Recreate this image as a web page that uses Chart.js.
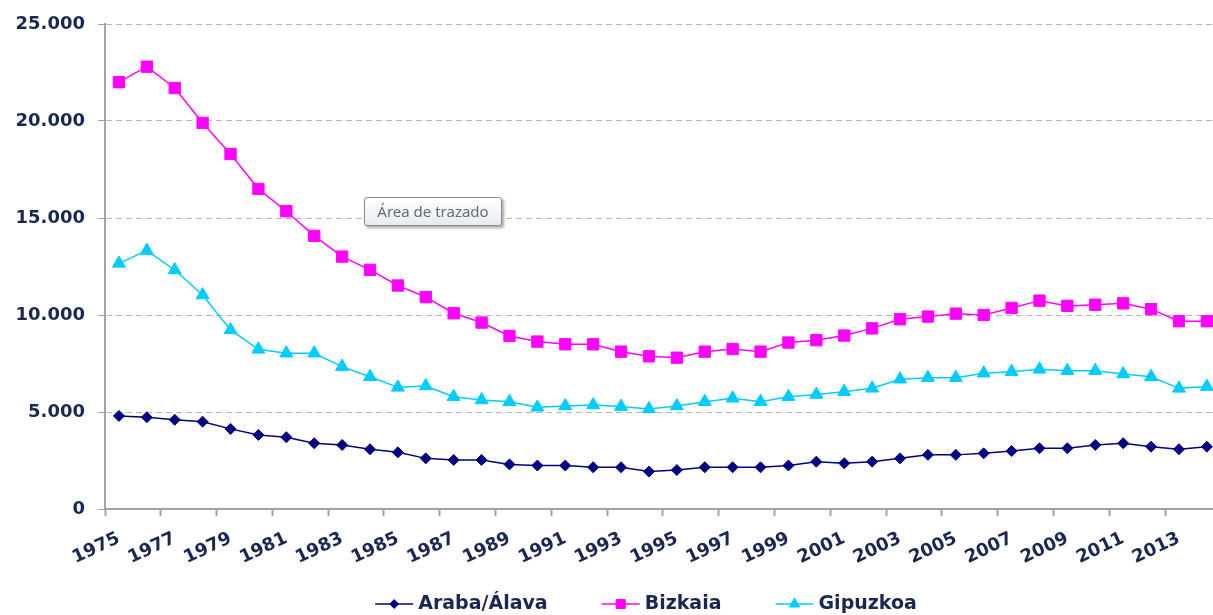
<!DOCTYPE html>
<html>
<head>
<meta charset="utf-8">
<script src="https://cdn.jsdelivr.net/npm/chart.js@4.4.0/dist/chart.umd.min.js"></script>
<style>
  html, body { margin: 0; padding: 0; background: #fff; overflow: hidden; }
  #wrap { position: relative; width: 1213px; height: 615px; overflow: hidden; }
  #tip {
    position: absolute; left: 364px; top: 197px; width: 136px; height: 27px;
    box-sizing: content-box;
    border: 1px solid #8a8a8a; border-radius: 3px;
    background: linear-gradient(#ffffff, #e6eaf1);
    box-shadow: 2px 2px 3px rgba(0,0,0,0.35);
    font: 15px "Noto Sans", sans-serif; color: #6b6b6b;
    line-height: 27px; text-align: center;
  }
</style>
</head>
<body>
<div id="wrap">
  <!-- canvas a little wider than the window: the original plot area runs off the right edge -->
  <canvas id="chart" width="1222" height="615"></canvas>
  <div id="tip">Área de trazado</div>
</div>
<script>
// series
const years = [1975, 1976, 1977, 1978, 1979, 1980, 1981, 1982, 1983, 1984,
               1985, 1986, 1987, 1988, 1989, 1990, 1991, 1992, 1993, 1994,
               1995, 1996, 1997, 1998, 1999, 2000, 2001, 2002, 2003, 2004,
               2005, 2006, 2007, 2008, 2009, 2010, 2011, 2012, 2013, 2014];

const araba = [4800, 4730, 4600, 4500, 4130, 3820, 3700, 3390, 3300, 3080,
               2920, 2610, 2530, 2530, 2300, 2240, 2240, 2150, 2150, 1930,
               2010, 2150, 2150, 2150, 2240, 2440, 2360, 2440, 2610, 2790,
               2790, 2870, 2990, 3130, 3130, 3300, 3390, 3210, 3080, 3210];

const bizkaia = [22000, 22800, 21700, 19900, 18300, 16500, 15350, 14080, 13010, 12330,
                 11520, 10920, 10090, 9610, 8920, 8630, 8490, 8490, 8110, 7870,
                 7800, 8110, 8250, 8110, 8580, 8700, 8940, 9310, 9780, 9920,
                 10070, 10000, 10360, 10740, 10470, 10530, 10600, 10300, 9680, 9680];

const gipuzkoa = [12660, 13320, 12320, 11030, 9230, 8230, 8030, 8030, 7340, 6820,
                  6270, 6340, 5790, 5620, 5530, 5240, 5310, 5360, 5280, 5160,
                  5310, 5530, 5710, 5530, 5790, 5900, 6050, 6220, 6690, 6770,
                  6770, 7000, 7080, 7200, 7130, 7130, 6960, 6820, 6220, 6310];

const seriesNames = ['Araba/Álava', 'Bizkaia', 'Gipuzkoa'];
const yTicks = [0, 5000, 10000, 15000, 20000, 25000];

const textColor = '#1b2753';
const axisColor = '#a3a3a3';

const toPoints = (vals) => vals.map((v, i) => ({ x: years[i], y: v }));
const fmt = (v) => String(v).replace(/\B(?=(\d{3})+(?!\d))/g, '.');

// legend with line + marker, like the spreadsheet one
const lineLegend = {
  id: 'lineLegend',
  afterDraw(chart) {
    const ctx = chart.ctx;
    const sets = chart.data.datasets;
    const lineW = 38, gap = 5, spacing = 54, cy = 604;
    ctx.save();
    ctx.font = 'bold 19px "DejaVu Sans"';
    let total = 0;
    sets.forEach((ds, i) => {
      total += lineW + gap + ctx.measureText(ds.label).width + (i ? spacing : 0);
    });
    let x = 646 - total / 2;
    sets.forEach(ds => {
      ctx.strokeStyle = ds.borderColor;
      ctx.fillStyle = ds.backgroundColor;
      ctx.lineWidth = 1.5;
      ctx.beginPath();
      ctx.moveTo(x, cy);
      ctx.lineTo(x + lineW, cy);
      ctx.stroke();
      ctx.lineWidth = 1;
      Chart.helpers.drawPoint(ctx, { pointStyle: ds.pointStyle, radius: ds.pointRadius * 0.8, borderWidth: 1 }, x + lineW / 2, cy);
      x += lineW + gap;
      ctx.fillStyle = textColor;
      ctx.textBaseline = 'middle';
      ctx.textAlign = 'left';
      ctx.fillText(ds.label, x, cy);
      x += ctx.measureText(ds.label).width + spacing;
    });
    ctx.restore();
  }
};

new Chart(document.getElementById('chart'), {
  type: 'line',
  data: {
    datasets: [
      {
        label: seriesNames[0],
        data: toPoints(araba),
        borderColor: '#000080',
        backgroundColor: '#000080',
        borderWidth: 1.5,
        pointStyle: 'rectRot',
        pointRadius: 5.5,
        pointBorderWidth: 1
      },
      {
        label: seriesNames[1],
        data: toPoints(bizkaia),
        borderColor: '#ff00ff',
        backgroundColor: '#ff00ff',
        borderWidth: 1.5,
        pointStyle: 'rect',
        pointRadius: 8,
        pointBorderWidth: 1
      },
      {
        label: seriesNames[2],
        data: toPoints(gipuzkoa),
        borderColor: '#00ccff',
        backgroundColor: '#00ccff',
        borderWidth: 1.5,
        pointStyle: 'triangle',
        pointRadius: 7.5,
        pointBorderWidth: 1
      }
    ]
  },
  options: {
    responsive: false,
    animation: false,
    layout: { padding: { top: 24, right: 0, bottom: 50, left: 0 } },
    plugins: { legend: { display: false }, tooltip: { enabled: false } },
    scales: {
      x: {
        type: 'linear',
        min: 1974.5,
        max: 2014.22,
        afterBuildTicks: (scale) => { scale.ticks = years.slice(0, -1).map(v => ({ value: v })); },
        afterFit: (scale) => { scale.height = 56; },
        border: { display: true, color: axisColor, width: 2 },
        grid: {
          offset: true,
          drawOnChartArea: false,
          drawTicks: true,
          tickLength: 7,
          tickWidth: 2,
          tickColor: (c) => (c.tick && c.tick.value % 2 === 1 ? axisColor : 'rgba(0,0,0,0)')
        },
        ticks: {
          autoSkip: false,
          minRotation: 25,
          maxRotation: 25,
          padding: 12,
          color: textColor,
          font: { family: 'DejaVu Sans', size: 18, weight: 'bold' },
          callback: (v) => (v % 2 === 1 ? String(v) : '')
        }
      },
      y: {
        min: 0,
        max: 25000,
        afterBuildTicks: (scale) => { scale.ticks = yTicks.map(v => ({ value: v })); },
        afterFit: (scale) => { scale.width = 105; },
        border: { display: true, color: axisColor, width: 2, dash: [6, 4] },
        grid: {
          color: '#b4b4b4',
          lineWidth: 1,
          tickLength: 7,
          tickColor: axisColor,
          tickBorderDash: []
        },
        ticks: {
          padding: 13,
          color: textColor,
          font: { family: 'DejaVu Sans', size: 18, weight: 'bold' },
          callback: (v) => fmt(v)
        }
      }
    }
  },
  plugins: [lineLegend]
});
</script>
</body>
</html>
